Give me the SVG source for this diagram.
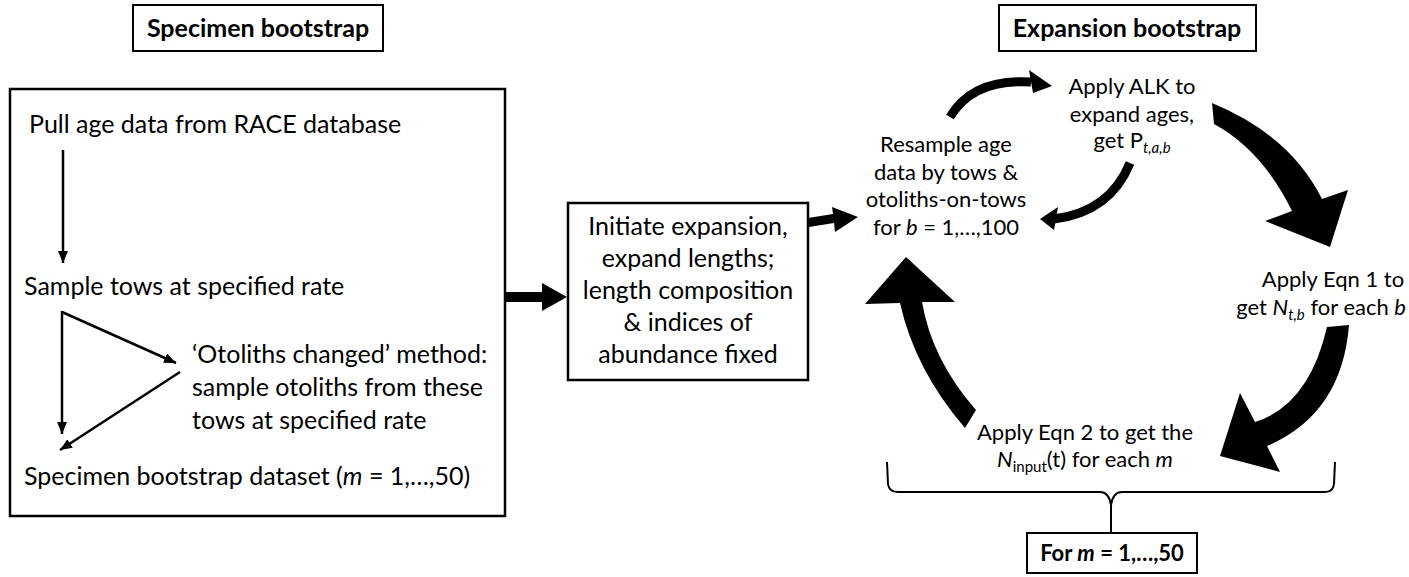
<svg xmlns="http://www.w3.org/2000/svg" width="1409" height="577" viewBox="0 0 1409 577">
<style>
text{font-family:Lato,"Liberation Sans",sans-serif;fill:#000}
.l{font-size:25px}
.r{font-size:22px}
.c{text-anchor:middle}
.b{font-weight:bold}
.i{font-style:italic}
.box{fill:#fff;stroke:#000;stroke-width:2.5}
.hb{fill:#fff;stroke:#000;stroke-width:2}
.thin{fill:none;stroke:#000;stroke-width:2.5;marker-end:url(#ah)}
.curve{fill:none;stroke:#000;stroke-width:9}
.solid{fill:#000;stroke:none}
.brace{fill:none;stroke:#000;stroke-width:2}
</style>
<defs>
<marker id="ah" viewBox="0 0 12 10" refX="12" refY="5" markerWidth="12" markerHeight="10" markerUnits="userSpaceOnUse" orient="auto">
<path d="M0,0 L12,5 L0,10 Z" fill="#000"/>
</marker>
</defs>
<rect width="1409" height="577" fill="#fff"/>

<g id="hdr-specimen">
<rect class="hb" x="133" y="5" width="250" height="46"/>
<text class="c b" x="258" y="37" font-size="25">Specimen bootstrap</text>
</g>
<g id="hdr-expansion">
<rect class="hb" x="999" y="5" width="257" height="46"/>
<text class="c b" x="1127" y="37" font-size="25">Expansion bootstrap</text>
</g>

<g id="specimen-box">
<rect class="box" x="10" y="89" width="495" height="427"/>
</g>
<g id="pull"><text class="l" x="29" y="133">Pull age data from RACE database</text></g>
<g id="sample-tows"><text class="l" x="24" y="295">Sample tows at specified rate</text></g>
<g id="otoliths">
<text class="l" x="192" y="363">‘Otoliths changed’ method:</text>
<text class="l" x="192" y="396">sample otoliths from these</text>
<text class="l" x="192" y="429">tows at specified rate</text>
</g>
<g id="dataset"><text class="l" x="24" y="485">Specimen bootstrap dataset (<tspan class="i">m</tspan> = 1,…,50)</text></g>

<g id="initiate">
<rect class="box" x="568" y="203" width="240" height="177"/>
<text class="l c" x="688" y="235">Initiate expansion,</text>
<text class="l c" x="688" y="267">expand lengths;</text>
<text class="l c" x="688" y="299">length composition</text>
<text class="l c" x="688" y="331">&amp; indices of</text>
<text class="l c" x="688" y="363">abundance fixed</text>
</g>

<g id="resample">
<text class="r c" x="946" y="152">Resample age</text>
<text class="r c" x="946" y="180">data by tows &amp;</text>
<text class="r c" x="946" y="207">otoliths-on-tows</text>
<text class="r c" x="946" y="235">for <tspan class="i">b</tspan> = 1,…,100</text>
</g>

<g id="apply-alk">
<text class="r c" x="1132" y="94">Apply ALK to</text>
<text class="r c" x="1132" y="122">expand ages,</text>
<text class="r c" x="1132" y="148">get P<tspan class="i" font-size="15" dy="5">t,a,b</tspan></text>
</g>

<g id="apply-eqn1">
<text class="r c" x="1333" y="287">Apply Eqn 1 to</text>
<text class="r" x="1406" y="315" text-anchor="end">get <tspan class="i">N</tspan><tspan class="i" font-size="15" dy="5">t,b</tspan><tspan dy="-5"> for each </tspan><tspan class="i">b</tspan></text>
</g>

<g id="apply-eqn2">
<text class="r c" x="1085" y="440">Apply Eqn 2 to get the</text>
<text class="r c" x="1085" y="467"><tspan class="i">N</tspan><tspan font-size="15" dy="5">input</tspan><tspan dy="-5">(t) for each </tspan><tspan class="i">m</tspan></text>
</g>

<g id="for-m">
<rect class="hb" x="1027" y="533" width="170" height="40"/>
<text class="c b" x="1112" y="561" font-size="22">For <tspan class="i">m</tspan> = 1,…,50</text>
</g>

<g id="connectors">
<path class="thin" d="M63,150 L63,263"/>
<path class="thin" d="M62,311 L62,434"/>
<path class="thin" d="M62,312 L176,363"/>
<path class="thin" d="M180,372 L60,450"/>
<path class="solid" d="M505,292 L542,292 L542,283 L567,297 L542,311 L542,302 L505,302 Z"/>
<path class="solid" d="M808,218 L833,214 L832,207 L858,217 L835,232 L834,223 L809,227 Z"/>
<path class="curve" d="M950,117 Q973,78 1031,82"/>
<path class="solid" d="M1029,70 L1052,86 L1033,93 Z"/>
<path class="curve" d="M1130,163 Q1110,212 1054,219"/>
<path class="solid" d="M1058,207 L1040,219 L1054,230 Z"/>
<path class="solid" d="M1212,103 Q1290,135 1322,199 L1348,190 L1330,247 L1265,221 L1292,211 Q1262,150 1214,124 Z"/>
<path class="solid" d="M1327,327 L1349,325 Q1342,414 1267,446 L1280,472 L1220,456 L1240,393 L1255,422 Q1309,405 1327,327 Z"/>
<path class="solid" d="M965,428 Q915,370 900,303 L865,304 L906,257 L955,302 L922,302 Q932,360 976,410 Z"/>
<path class="brace" d="M887,462 L888,484 Q889,492 898,492 L1100,492 Q1109,492 1111,505 Q1113,492 1122,492 L1325,492 Q1333,492 1334,484 L1335,462"/>
<path class="brace" d="M1111,505 L1111,533"/>
</g>
</svg>
